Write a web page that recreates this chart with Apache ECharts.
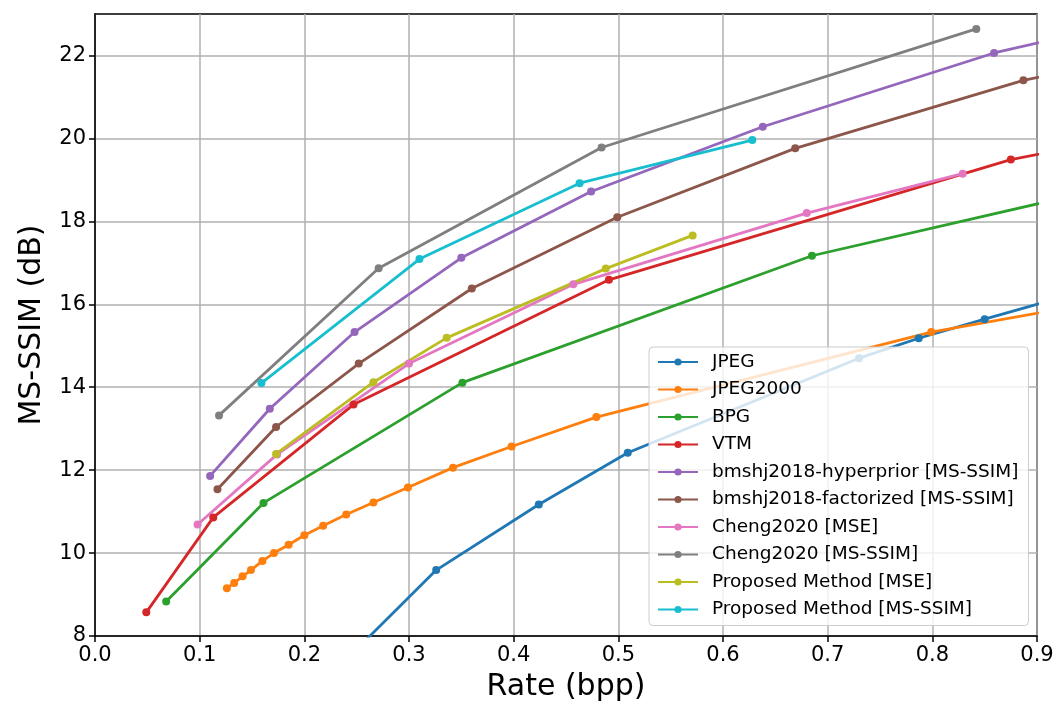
<!DOCTYPE html>
<html>
<head>
<meta charset="utf-8">
<script src="https://cdn.jsdelivr.net/npm/echarts@6/dist/echarts.min.js"></script>
<style>
  html, body { margin: 0; padding: 0; background: #fff; }
  #chart { width: 1059px; height: 707px; }
</style>
</head>
<body>
<div id="chart"></div>
<script>
// 数据 [rate, ms-ssim]
const jpeg = [[0.24, 7.43], [0.326, 9.59], [0.424, 11.17], [0.509, 12.42], [0.730, 14.70], [0.787, 15.18], [0.850, 15.64], [0.97, 16.5]]
const jpeg2000 = [[0.126, 9.15], [0.133, 9.28], [0.141, 9.44], [0.149, 9.59], [0.160, 9.81], [0.171, 10.0], [0.185, 10.2], [0.200, 10.43], [0.218, 10.66], [0.240, 10.93], [0.266, 11.22], [0.299, 11.58], [0.342, 12.06], [0.398, 12.57], [0.479, 13.28], [0.799, 15.33], [1.0, 16.23]]
const bpg = [[0.068, 8.83], [0.161, 11.21], [0.351, 14.11], [0.685, 17.17], [1.0, 19.0]]
const vtm = [[0.049, 8.57], [0.113, 10.86], [0.247, 13.58], [0.491, 16.59], [0.875, 19.49], [1.0, 20.09]]
const hyperprior = [[0.110, 11.86], [0.167, 13.48], [0.248, 15.33], [0.350, 17.12], [0.474, 18.72], [0.638, 20.28], [0.859, 22.06], [1.0, 22.88]]
const factorized = [[0.117, 11.54], [0.173, 13.04], [0.252, 14.57], [0.360, 16.38], [0.499, 18.10], [0.669, 19.76], [0.887, 21.40], [1.0, 22.0]]
const chengMse = [[0.098, 10.69], [0.174, 12.38], [0.300, 14.57], [0.457, 16.48], [0.680, 18.20], [0.829, 19.15]]
const chengMsssim = [[0.1185, 13.32], [0.271, 16.87], [0.484, 19.78], [0.842, 22.64]]
const proposedMse = [[0.173, 12.39], [0.266, 14.12], [0.336, 15.19], [0.488, 16.86], [0.571, 17.66]]
const proposedMsssim = [[0.159, 14.10], [0.310, 17.09], [0.463, 18.92], [0.628, 19.96]]

const names = ['JPEG', 'JPEG2000', 'BPG', 'VTM', 'bmshj2018-hyperprior [MS-SSIM]', 'bmshj2018-factorized [MS-SSIM]',
  'Cheng2020 [MSE]', 'Cheng2020 [MS-SSIM]', 'Proposed Method [MSE]', 'Proposed Method [MS-SSIM]']
const lists = [jpeg, jpeg2000, bpg, vtm, hyperprior, factorized, chengMse, chengMsssim, proposedMse, proposedMsssim]
const colors = ['#1f77b4', '#ff7f0e', '#2ca02c', '#d62728', '#9467bd', '#8c564b', '#e377c2', '#7f7f7f', '#bcbd22', '#17becf']

const xTicks = [0, 0.1, 0.2, 0.3, 0.4, 0.5, 0.6, 0.7, 0.8, 0.9]
const yTicks = [8, 10, 12, 14, 16, 18, 20, 22]

const font = 'DejaVu Sans'
const myChart = echarts.init(document.querySelector('#chart'))

const option = {
  animation: false,
  color: colors,
  textStyle: { fontFamily: font },
  grid: {
    left: 95, right: 22, top: 14, bottom: 71,
    show: true, borderColor: '#000', borderWidth: 1.5, backgroundColor: 'transparent'
  },
  xAxis: {
    type: 'value',
    min: 0, max: 0.9, interval: 0.1,
    name: 'Rate (bpp)',
    nameLocation: 'middle',
    nameGap: 36,
    nameTextStyle: { fontSize: 30, color: '#000', fontFamily: font },
    axisLine: { show: true, lineStyle: { color: '#000', width: 1.5 } },
    axisTick: { show: true, length: 6, lineStyle: { color: '#000', width: 1.5 }, customValues: xTicks },
    axisLabel: {
      color: '#000', fontSize: 21, fontFamily: font, margin: 9,
      customValues: xTicks,
      formatter: v => v.toFixed(1)
    },
    splitLine: { show: true, lineStyle: { color: '#b0b0b0', width: 1.5 } }
  },
  yAxis: {
    type: 'value',
    min: 8, max: 23, interval: 2,
    name: 'MS-SSIM (dB)',
    nameLocation: 'middle',
    nameGap: 48,
    nameRotate: 90,
    nameTextStyle: { fontSize: 30, color: '#000', fontFamily: font },
    axisLine: { show: true, lineStyle: { color: '#000', width: 1.5 } },
    axisTick: { show: true, length: 6, lineStyle: { color: '#000', width: 1.5 }, customValues: yTicks },
    axisLabel: {
      color: '#000', fontSize: 21, fontFamily: font, margin: 9,
      customValues: yTicks,
      formatter: v => String(v)
    },
    splitLine: { show: true, lineStyle: { color: '#b0b0b0', width: 1.5 } }
  },
  legend: {
    orient: 'vertical',
    left: 649, top: 347,
    itemWidth: 40, itemHeight: 9, itemGap: 7.5,
    padding: [5, 10, 6, 8],
    backgroundColor: 'rgba(255,255,255,0.8)',
    borderColor: '#cccccc', borderWidth: 1, borderRadius: 4,
    textStyle: { fontSize: 18.5, color: '#000', fontFamily: font, lineHeight: 20, padding: [0, 0, 0, 9] },
    data: names
  },
  series: lists.map((list, i) => ({
    name: names[i],
    type: 'line',
    data: list,
    symbol: 'circle',
    symbolSize: 8,
    clip: true,
    lineStyle: { width: 2.8, color: colors[i] },
    itemStyle: { color: colors[i] }
  }))
}
myChart.setOption(option)
</script>
</body>
</html>
